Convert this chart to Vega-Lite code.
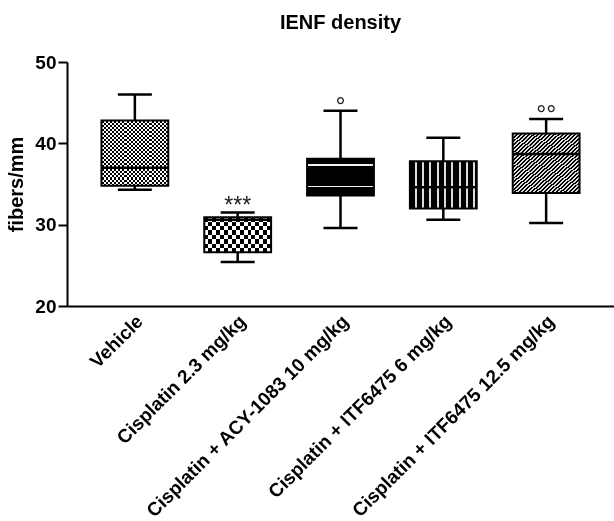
{
  "$schema": "https://vega.github.io/schema/vega-lite/v6.json",
  "autosize": {"type": "none"},
  "padding": {"left": 67, "top": 62, "right": 0, "bottom": 215},
  "width": 547,
  "height": 244,
  "title": {"text": "IENF density", "font": "Liberation Sans", "fontSize": 20, "fontWeight": "bold", "color": "black", "anchor": "middle", "frame": "group", "offset": 20},
  "config": {"view": {"stroke": null}, "font": "Liberation Sans"},
  "data": {"values": [
    {"group": "Vehicle", "min": 34.3, "q1": 34.8, "median": 37.0, "q3": 42.8, "max": 46.0, "sig": ""},
    {"group": "Cisplatin 2.3 mg/kg", "min": 25.4, "q1": 26.6, "median": 30.6, "q3": 30.9, "max": 31.5, "sig": "***"},
    {"group": "Cisplatin + ACY-1083 10 mg/kg", "min": 29.6, "q1": 33.6, "median": 35.5, "q3": 38.1, "max": 44.0, "sig": "°"},
    {"group": "Cisplatin + ITF6475 6 mg/kg", "min": 30.6, "q1": 32.0, "median": 34.6, "q3": 37.8, "max": 40.7, "sig": ""},
    {"group": "Cisplatin + ITF6475 12.5 mg/kg", "min": 30.2, "q1": 33.9, "median": 38.7, "q3": 41.2, "max": 43.0, "sig": "°°"}
  ]},
  "encoding": {
    "x": {"field": "group", "type": "nominal", "sort": null,
      "scale": {"paddingInner": 0, "paddingOuter": 0.16},
      "axis": {"title": null, "domainColor": "black", "domainWidth": 2, "ticks": false, "grid": false,
        "labelAngle": -45, "labelAlign": "right", "labelBaseline": "middle", "labelPadding": 12, "labelOffset": 5,
        "labelFont": "Liberation Sans", "labelFontSize": 19, "labelFontWeight": "bold", "labelColor": "black", "labelLimit": 400}}
  },
  "layer": [
    {"mark": {"type": "rule", "color": "black", "strokeWidth": 2.5},
     "encoding": {
       "y": {"field": "min", "type": "quantitative",
         "scale": {"domain": [20, 50], "nice": false, "zero": false},
         "axis": {"title": "fibers/mm", "values": [20, 30, 40, 50], "grid": false, "domainColor": "black", "domainWidth": 2,
           "tickColor": "black", "tickWidth": 2, "tickSize": 9, "labelPadding": 2,
           "labelFont": "Liberation Sans", "labelFontSize": 19, "labelFontWeight": "bold", "labelColor": "black",
           "titleFont": "Liberation Sans", "titleFontSize": 20, "titleFontWeight": "bold", "titleColor": "black", "titlePadding": 8}},
       "y2": {"field": "max"}}},
    {"mark": {"type": "tick", "color": "black", "opacity": 1, "size": 34, "thickness": 2.5},
     "encoding": {"y": {"field": "min", "type": "quantitative"}}},
    {"mark": {"type": "tick", "color": "black", "opacity": 1, "size": 34, "thickness": 2.5},
     "encoding": {"y": {"field": "max", "type": "quantitative"}}},
    {"transform": [{"filter": "datum.group === 'Vehicle'"}],
     "mark": {"type": "bar", "width": {"band": 0.65}, "strokeWidth": 0,
       "fill": {"gradient": "linear", "x1": 0, "y1": 0, "x2": 1, "y2": 0, "stops": [
         {"offset": 0, "color": "#000"}, {"offset": 0.03125, "color": "#000"},
         {"offset": 0.03125, "color": "#fff"}, {"offset": 0.0625, "color": "#fff"},
         {"offset": 0.0625, "color": "#000"}, {"offset": 0.09375, "color": "#000"},
         {"offset": 0.09375, "color": "#fff"}, {"offset": 0.125, "color": "#fff"},
         {"offset": 0.125, "color": "#000"}, {"offset": 0.15625, "color": "#000"},
         {"offset": 0.15625, "color": "#fff"}, {"offset": 0.1875, "color": "#fff"},
         {"offset": 0.1875, "color": "#000"}, {"offset": 0.21875, "color": "#000"},
         {"offset": 0.21875, "color": "#fff"}, {"offset": 0.25, "color": "#fff"},
         {"offset": 0.25, "color": "#000"}, {"offset": 0.28125, "color": "#000"},
         {"offset": 0.28125, "color": "#fff"}, {"offset": 0.3125, "color": "#fff"},
         {"offset": 0.3125, "color": "#000"}, {"offset": 0.34375, "color": "#000"},
         {"offset": 0.34375, "color": "#fff"}, {"offset": 0.375, "color": "#fff"},
         {"offset": 0.375, "color": "#000"}, {"offset": 0.40625, "color": "#000"},
         {"offset": 0.40625, "color": "#fff"}, {"offset": 0.4375, "color": "#fff"},
         {"offset": 0.4375, "color": "#000"}, {"offset": 0.46875, "color": "#000"},
         {"offset": 0.46875, "color": "#fff"}, {"offset": 0.5, "color": "#fff"},
         {"offset": 0.5, "color": "#000"}, {"offset": 0.53125, "color": "#000"},
         {"offset": 0.53125, "color": "#fff"}, {"offset": 0.5625, "color": "#fff"},
         {"offset": 0.5625, "color": "#000"}, {"offset": 0.59375, "color": "#000"},
         {"offset": 0.59375, "color": "#fff"}, {"offset": 0.625, "color": "#fff"},
         {"offset": 0.625, "color": "#000"}, {"offset": 0.65625, "color": "#000"},
         {"offset": 0.65625, "color": "#fff"}, {"offset": 0.6875, "color": "#fff"},
         {"offset": 0.6875, "color": "#000"}, {"offset": 0.71875, "color": "#000"},
         {"offset": 0.71875, "color": "#fff"}, {"offset": 0.75, "color": "#fff"},
         {"offset": 0.75, "color": "#000"}, {"offset": 0.78125, "color": "#000"},
         {"offset": 0.78125, "color": "#fff"}, {"offset": 0.8125, "color": "#fff"},
         {"offset": 0.8125, "color": "#000"}, {"offset": 0.84375, "color": "#000"},
         {"offset": 0.84375, "color": "#fff"}, {"offset": 0.875, "color": "#fff"},
         {"offset": 0.875, "color": "#000"}, {"offset": 0.90625, "color": "#000"},
         {"offset": 0.90625, "color": "#fff"}, {"offset": 0.9375, "color": "#fff"},
         {"offset": 0.9375, "color": "#000"}, {"offset": 0.96875, "color": "#000"},
         {"offset": 0.96875, "color": "#fff"}, {"offset": 1, "color": "#fff"}]}},
     "encoding": {"y": {"field": "q1", "type": "quantitative"}, "y2": {"field": "q3"}}},
    {"transform": [{"filter": "datum.group === 'Vehicle'"}],
     "mark": {"type": "bar", "width": {"band": 0.65}, "strokeWidth": 0, "blend": "difference",
       "fill": {"gradient": "linear", "x1": 0, "y1": 0, "x2": 0, "y2": 1, "stops": [
         {"offset": 0, "color": "#000"}, {"offset": 0.03125, "color": "#000"},
         {"offset": 0.03125, "color": "#fff"}, {"offset": 0.0625, "color": "#fff"},
         {"offset": 0.0625, "color": "#000"}, {"offset": 0.09375, "color": "#000"},
         {"offset": 0.09375, "color": "#fff"}, {"offset": 0.125, "color": "#fff"},
         {"offset": 0.125, "color": "#000"}, {"offset": 0.15625, "color": "#000"},
         {"offset": 0.15625, "color": "#fff"}, {"offset": 0.1875, "color": "#fff"},
         {"offset": 0.1875, "color": "#000"}, {"offset": 0.21875, "color": "#000"},
         {"offset": 0.21875, "color": "#fff"}, {"offset": 0.25, "color": "#fff"},
         {"offset": 0.25, "color": "#000"}, {"offset": 0.28125, "color": "#000"},
         {"offset": 0.28125, "color": "#fff"}, {"offset": 0.3125, "color": "#fff"},
         {"offset": 0.3125, "color": "#000"}, {"offset": 0.34375, "color": "#000"},
         {"offset": 0.34375, "color": "#fff"}, {"offset": 0.375, "color": "#fff"},
         {"offset": 0.375, "color": "#000"}, {"offset": 0.40625, "color": "#000"},
         {"offset": 0.40625, "color": "#fff"}, {"offset": 0.4375, "color": "#fff"},
         {"offset": 0.4375, "color": "#000"}, {"offset": 0.46875, "color": "#000"},
         {"offset": 0.46875, "color": "#fff"}, {"offset": 0.5, "color": "#fff"},
         {"offset": 0.5, "color": "#000"}, {"offset": 0.53125, "color": "#000"},
         {"offset": 0.53125, "color": "#fff"}, {"offset": 0.5625, "color": "#fff"},
         {"offset": 0.5625, "color": "#000"}, {"offset": 0.59375, "color": "#000"},
         {"offset": 0.59375, "color": "#fff"}, {"offset": 0.625, "color": "#fff"},
         {"offset": 0.625, "color": "#000"}, {"offset": 0.65625, "color": "#000"},
         {"offset": 0.65625, "color": "#fff"}, {"offset": 0.6875, "color": "#fff"},
         {"offset": 0.6875, "color": "#000"}, {"offset": 0.71875, "color": "#000"},
         {"offset": 0.71875, "color": "#fff"}, {"offset": 0.75, "color": "#fff"},
         {"offset": 0.75, "color": "#000"}, {"offset": 0.78125, "color": "#000"},
         {"offset": 0.78125, "color": "#fff"}, {"offset": 0.8125, "color": "#fff"},
         {"offset": 0.8125, "color": "#000"}, {"offset": 0.84375, "color": "#000"},
         {"offset": 0.84375, "color": "#fff"}, {"offset": 0.875, "color": "#fff"},
         {"offset": 0.875, "color": "#000"}, {"offset": 0.90625, "color": "#000"},
         {"offset": 0.90625, "color": "#fff"}, {"offset": 0.9375, "color": "#fff"},
         {"offset": 0.9375, "color": "#000"}, {"offset": 0.96875, "color": "#000"},
         {"offset": 0.96875, "color": "#fff"}, {"offset": 1, "color": "#fff"}]}},
     "encoding": {"y": {"field": "q1", "type": "quantitative"}, "y2": {"field": "q3"}}},
    {"transform": [{"filter": "datum.group === 'Cisplatin 2.3 mg/kg'"}],
     "mark": {"type": "bar", "width": {"band": 0.65}, "strokeWidth": 0,
       "fill": {"gradient": "linear", "x1": 0, "y1": 0, "x2": 1, "y2": 0, "stops": [
         {"offset": 0, "color": "#000"}, {"offset": 0.05882, "color": "#000"},
         {"offset": 0.05882, "color": "#fff"}, {"offset": 0.11765, "color": "#fff"},
         {"offset": 0.11765, "color": "#000"}, {"offset": 0.17647, "color": "#000"},
         {"offset": 0.17647, "color": "#fff"}, {"offset": 0.23529, "color": "#fff"},
         {"offset": 0.23529, "color": "#000"}, {"offset": 0.29412, "color": "#000"},
         {"offset": 0.29412, "color": "#fff"}, {"offset": 0.35294, "color": "#fff"},
         {"offset": 0.35294, "color": "#000"}, {"offset": 0.41176, "color": "#000"},
         {"offset": 0.41176, "color": "#fff"}, {"offset": 0.47059, "color": "#fff"},
         {"offset": 0.47059, "color": "#000"}, {"offset": 0.52941, "color": "#000"},
         {"offset": 0.52941, "color": "#fff"}, {"offset": 0.58824, "color": "#fff"},
         {"offset": 0.58824, "color": "#000"}, {"offset": 0.64706, "color": "#000"},
         {"offset": 0.64706, "color": "#fff"}, {"offset": 0.70588, "color": "#fff"},
         {"offset": 0.70588, "color": "#000"}, {"offset": 0.76471, "color": "#000"},
         {"offset": 0.76471, "color": "#fff"}, {"offset": 0.82353, "color": "#fff"},
         {"offset": 0.82353, "color": "#000"}, {"offset": 0.88235, "color": "#000"},
         {"offset": 0.88235, "color": "#fff"}, {"offset": 0.94118, "color": "#fff"},
         {"offset": 0.94118, "color": "#000"}, {"offset": 1, "color": "#000"}]}},
     "encoding": {"y": {"field": "q1", "type": "quantitative"}, "y2": {"field": "q3"}}},
    {"transform": [{"filter": "datum.group === 'Cisplatin 2.3 mg/kg'"}],
     "mark": {"type": "bar", "width": {"band": 0.65}, "strokeWidth": 0, "blend": "difference",
       "fill": {"gradient": "linear", "x1": 0, "y1": 0, "x2": 0, "y2": 1, "stops": [
         {"offset": 0, "color": "#000"}, {"offset": 0.125, "color": "#000"},
         {"offset": 0.125, "color": "#fff"}, {"offset": 0.25, "color": "#fff"},
         {"offset": 0.25, "color": "#000"}, {"offset": 0.375, "color": "#000"},
         {"offset": 0.375, "color": "#fff"}, {"offset": 0.5, "color": "#fff"},
         {"offset": 0.5, "color": "#000"}, {"offset": 0.625, "color": "#000"},
         {"offset": 0.625, "color": "#fff"}, {"offset": 0.75, "color": "#fff"},
         {"offset": 0.75, "color": "#000"}, {"offset": 0.875, "color": "#000"},
         {"offset": 0.875, "color": "#fff"}, {"offset": 1, "color": "#fff"}]}},
     "encoding": {"y": {"field": "q1", "type": "quantitative"}, "y2": {"field": "q3"}}},
    {"transform": [{"filter": "datum.group === 'Cisplatin + ACY-1083 10 mg/kg'"}],
     "mark": {"type": "bar", "width": {"band": 0.65}, "strokeWidth": 0,
       "fill": {"gradient": "linear", "x1": 0, "y1": 0, "x2": 0, "y2": 1, "stops": [
         {"offset": 0, "color": "#000"}, {"offset": 0.14, "color": "#000"},
         {"offset": 0.14, "color": "#f0f0f0"}, {"offset": 0.185, "color": "#f0f0f0"},
         {"offset": 0.185, "color": "#000"}, {"offset": 0.55, "color": "#000"},
         {"offset": 0.55, "color": "#f0f0f0"}, {"offset": 0.595, "color": "#f0f0f0"},
         {"offset": 0.595, "color": "#000"}, {"offset": 0.735, "color": "#000"},
         {"offset": 0.735, "color": "#f0f0f0"}, {"offset": 0.78, "color": "#f0f0f0"},
         {"offset": 0.78, "color": "#000"}, {"offset": 1, "color": "#000"}]}},
     "encoding": {"y": {"field": "q1", "type": "quantitative"}, "y2": {"field": "q3"}}},
    {"transform": [{"filter": "datum.group === 'Cisplatin + ITF6475 6 mg/kg'"}],
     "mark": {"type": "bar", "width": {"band": 0.65}, "strokeWidth": 0,
       "fill": {"gradient": "linear", "x1": 0, "y1": 0, "x2": 1, "y2": 0, "stops": [
         {"offset": 0, "color": "#000"}, {"offset": 0.074, "color": "#000"},
         {"offset": 0.074, "color": "#ddd"}, {"offset": 0.104, "color": "#ddd"},
         {"offset": 0.104, "color": "#000"}, {"offset": 0.183, "color": "#000"},
         {"offset": 0.183, "color": "#ddd"}, {"offset": 0.213, "color": "#ddd"},
         {"offset": 0.213, "color": "#000"}, {"offset": 0.292, "color": "#000"},
         {"offset": 0.292, "color": "#ddd"}, {"offset": 0.322, "color": "#ddd"},
         {"offset": 0.322, "color": "#000"}, {"offset": 0.401, "color": "#000"},
         {"offset": 0.401, "color": "#ddd"}, {"offset": 0.431, "color": "#ddd"},
         {"offset": 0.431, "color": "#000"}, {"offset": 0.51, "color": "#000"},
         {"offset": 0.51, "color": "#ddd"}, {"offset": 0.54, "color": "#ddd"},
         {"offset": 0.54, "color": "#000"}, {"offset": 0.619, "color": "#000"},
         {"offset": 0.619, "color": "#ddd"}, {"offset": 0.649, "color": "#ddd"},
         {"offset": 0.649, "color": "#000"}, {"offset": 0.728, "color": "#000"},
         {"offset": 0.728, "color": "#ddd"}, {"offset": 0.758, "color": "#ddd"},
         {"offset": 0.758, "color": "#000"}, {"offset": 0.837, "color": "#000"},
         {"offset": 0.837, "color": "#ddd"}, {"offset": 0.867, "color": "#ddd"},
         {"offset": 0.867, "color": "#000"}, {"offset": 0.946, "color": "#000"},
         {"offset": 0.946, "color": "#ddd"}, {"offset": 0.976, "color": "#ddd"},
         {"offset": 0.976, "color": "#000"}, {"offset": 1, "color": "#000"}]}},
     "encoding": {"y": {"field": "q1", "type": "quantitative"}, "y2": {"field": "q3"}}},
    {"transform": [{"filter": "datum.group === 'Cisplatin + ITF6475 12.5 mg/kg'"}],
     "mark": {"type": "bar", "width": {"band": 0.65}, "strokeWidth": 0,
       "fill": {"gradient": "linear", "x1": 0, "y1": 0, "x2": 1, "y2": 1, "stops": [
         {"offset": 0, "color": "#000"}, {"offset": 0.015625, "color": "#000"},
         {"offset": 0.015625, "color": "#ddd"}, {"offset": 0.03125, "color": "#ddd"},
         {"offset": 0.03125, "color": "#000"}, {"offset": 0.046875, "color": "#000"},
         {"offset": 0.046875, "color": "#ddd"}, {"offset": 0.0625, "color": "#ddd"},
         {"offset": 0.0625, "color": "#000"}, {"offset": 0.078125, "color": "#000"},
         {"offset": 0.078125, "color": "#ddd"}, {"offset": 0.09375, "color": "#ddd"},
         {"offset": 0.09375, "color": "#000"}, {"offset": 0.109375, "color": "#000"},
         {"offset": 0.109375, "color": "#ddd"}, {"offset": 0.125, "color": "#ddd"},
         {"offset": 0.125, "color": "#000"}, {"offset": 0.140625, "color": "#000"},
         {"offset": 0.140625, "color": "#ddd"}, {"offset": 0.15625, "color": "#ddd"},
         {"offset": 0.15625, "color": "#000"}, {"offset": 0.171875, "color": "#000"},
         {"offset": 0.171875, "color": "#ddd"}, {"offset": 0.1875, "color": "#ddd"},
         {"offset": 0.1875, "color": "#000"}, {"offset": 0.203125, "color": "#000"},
         {"offset": 0.203125, "color": "#ddd"}, {"offset": 0.21875, "color": "#ddd"},
         {"offset": 0.21875, "color": "#000"}, {"offset": 0.234375, "color": "#000"},
         {"offset": 0.234375, "color": "#ddd"}, {"offset": 0.25, "color": "#ddd"},
         {"offset": 0.25, "color": "#000"}, {"offset": 0.265625, "color": "#000"},
         {"offset": 0.265625, "color": "#ddd"}, {"offset": 0.28125, "color": "#ddd"},
         {"offset": 0.28125, "color": "#000"}, {"offset": 0.296875, "color": "#000"},
         {"offset": 0.296875, "color": "#ddd"}, {"offset": 0.3125, "color": "#ddd"},
         {"offset": 0.3125, "color": "#000"}, {"offset": 0.328125, "color": "#000"},
         {"offset": 0.328125, "color": "#ddd"}, {"offset": 0.34375, "color": "#ddd"},
         {"offset": 0.34375, "color": "#000"}, {"offset": 0.359375, "color": "#000"},
         {"offset": 0.359375, "color": "#ddd"}, {"offset": 0.375, "color": "#ddd"},
         {"offset": 0.375, "color": "#000"}, {"offset": 0.390625, "color": "#000"},
         {"offset": 0.390625, "color": "#ddd"}, {"offset": 0.40625, "color": "#ddd"},
         {"offset": 0.40625, "color": "#000"}, {"offset": 0.421875, "color": "#000"},
         {"offset": 0.421875, "color": "#ddd"}, {"offset": 0.4375, "color": "#ddd"},
         {"offset": 0.4375, "color": "#000"}, {"offset": 0.453125, "color": "#000"},
         {"offset": 0.453125, "color": "#ddd"}, {"offset": 0.46875, "color": "#ddd"},
         {"offset": 0.46875, "color": "#000"}, {"offset": 0.484375, "color": "#000"},
         {"offset": 0.484375, "color": "#ddd"}, {"offset": 0.5, "color": "#ddd"},
         {"offset": 0.5, "color": "#000"}, {"offset": 0.515625, "color": "#000"},
         {"offset": 0.515625, "color": "#ddd"}, {"offset": 0.53125, "color": "#ddd"},
         {"offset": 0.53125, "color": "#000"}, {"offset": 0.546875, "color": "#000"},
         {"offset": 0.546875, "color": "#ddd"}, {"offset": 0.5625, "color": "#ddd"},
         {"offset": 0.5625, "color": "#000"}, {"offset": 0.578125, "color": "#000"},
         {"offset": 0.578125, "color": "#ddd"}, {"offset": 0.59375, "color": "#ddd"},
         {"offset": 0.59375, "color": "#000"}, {"offset": 0.609375, "color": "#000"},
         {"offset": 0.609375, "color": "#ddd"}, {"offset": 0.625, "color": "#ddd"},
         {"offset": 0.625, "color": "#000"}, {"offset": 0.640625, "color": "#000"},
         {"offset": 0.640625, "color": "#ddd"}, {"offset": 0.65625, "color": "#ddd"},
         {"offset": 0.65625, "color": "#000"}, {"offset": 0.671875, "color": "#000"},
         {"offset": 0.671875, "color": "#ddd"}, {"offset": 0.6875, "color": "#ddd"},
         {"offset": 0.6875, "color": "#000"}, {"offset": 0.703125, "color": "#000"},
         {"offset": 0.703125, "color": "#ddd"}, {"offset": 0.71875, "color": "#ddd"},
         {"offset": 0.71875, "color": "#000"}, {"offset": 0.734375, "color": "#000"},
         {"offset": 0.734375, "color": "#ddd"}, {"offset": 0.75, "color": "#ddd"},
         {"offset": 0.75, "color": "#000"}, {"offset": 0.765625, "color": "#000"},
         {"offset": 0.765625, "color": "#ddd"}, {"offset": 0.78125, "color": "#ddd"},
         {"offset": 0.78125, "color": "#000"}, {"offset": 0.796875, "color": "#000"},
         {"offset": 0.796875, "color": "#ddd"}, {"offset": 0.8125, "color": "#ddd"},
         {"offset": 0.8125, "color": "#000"}, {"offset": 0.828125, "color": "#000"},
         {"offset": 0.828125, "color": "#ddd"}, {"offset": 0.84375, "color": "#ddd"},
         {"offset": 0.84375, "color": "#000"}, {"offset": 0.859375, "color": "#000"},
         {"offset": 0.859375, "color": "#ddd"}, {"offset": 0.875, "color": "#ddd"},
         {"offset": 0.875, "color": "#000"}, {"offset": 0.890625, "color": "#000"},
         {"offset": 0.890625, "color": "#ddd"}, {"offset": 0.90625, "color": "#ddd"},
         {"offset": 0.90625, "color": "#000"}, {"offset": 0.921875, "color": "#000"},
         {"offset": 0.921875, "color": "#ddd"}, {"offset": 0.9375, "color": "#ddd"},
         {"offset": 0.9375, "color": "#000"}, {"offset": 0.953125, "color": "#000"},
         {"offset": 0.953125, "color": "#ddd"}, {"offset": 0.96875, "color": "#ddd"},
         {"offset": 0.96875, "color": "#000"}, {"offset": 0.984375, "color": "#000"},
         {"offset": 0.984375, "color": "#ddd"}, {"offset": 1, "color": "#ddd"}]}},
     "encoding": {"y": {"field": "q1", "type": "quantitative"}, "y2": {"field": "q3"}}},
    {"mark": {"type": "bar", "width": {"band": 0.65}, "fillOpacity": 0, "fill": "white", "stroke": "black", "strokeWidth": 2},
     "encoding": {"y": {"field": "q1", "type": "quantitative"}, "y2": {"field": "q3"}}},
    {"mark": {"type": "tick", "color": "black", "opacity": 1, "size": 67, "thickness": 2.5},
     "encoding": {"y": {"field": "median", "type": "quantitative"}}},
    {"transform": [{"filter": "datum.sig === '***'"}],
     "mark": {"type": "text", "font": "Liberation Sans", "fontSize": 23, "color": "#222", "baseline": "alphabetic", "dy": 1},
     "encoding": {"y": {"field": "max", "type": "quantitative"}, "text": {"field": "sig"}}},
    {"transform": [{"filter": "datum.sig === '°' || datum.sig === '°°'"}],
     "mark": {"type": "text", "font": "Liberation Sans", "fontSize": 25, "color": "#222", "baseline": "alphabetic", "dy": 4},
     "encoding": {"y": {"field": "max", "type": "quantitative"}, "text": {"field": "sig"}}}
  ]
}
